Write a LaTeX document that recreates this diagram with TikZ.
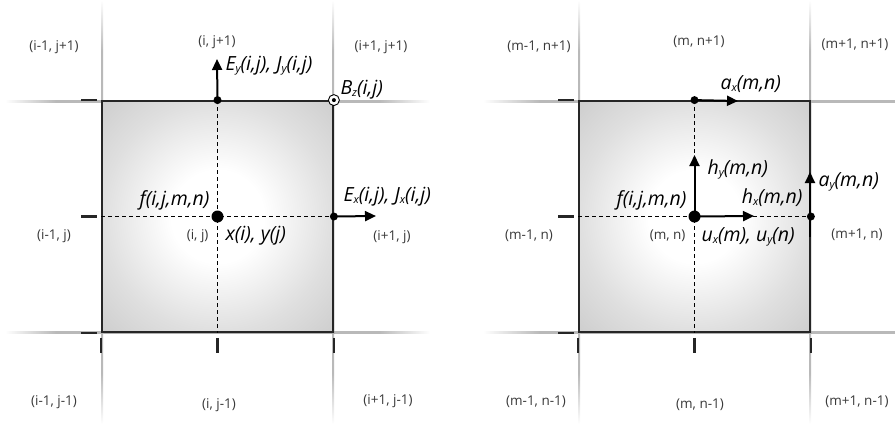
\documentclass[tikz,border=0pt]{standalone}
\usepackage{fontspec}
\setmainfont{Open Sans}
\usepackage{xcolor}
\usetikzlibrary{arrows.meta,positioning,shadows}

% grid lines fade out at both ends
\pgfdeclarehorizontalshading{gridfade}{100bp}{color(0bp)=(white); color(25bp)=(white);
  color(31bp)=(gray!55); color(69bp)=(gray!55); color(75bp)=(white); color(100bp)=(white)}
% cell fill: white centre, grey rim
\pgfdeclareradialshading{cellglow}{\pgfpoint{0bp}{0bp}}{color(0bp)=(white); color(10bp)=(white);
  color(22bp)=(gray!20); color(25bp)=(gray!25); color(35bp)=(gray!38); color(50bp)=(gray!38)}
\newcommand{\lsub}[1]{\raisebox{-0.2ex}{\fontsize{11}{11}\selectfont #1}}

\begin{document}
\begin{tikzpicture}[
    x=1pt, y=-1pt,
    cell/.style={rectangle, draw=black!85, line width=1.8pt, minimum size=231pt,
                 inner sep=0pt, shading=cellglow,
                 drop shadow={opacity=0.18, shadow xshift=2pt, shadow yshift=-2pt}},
    axis/.style={dashed, line width=0.7pt, dash pattern=on 4pt off 3pt},
    tick/.style={line width=2.6pt, black!85},
    bigdot/.style={circle, fill=black, minimum size=12pt, inner sep=0pt},
    dot/.style={circle, fill=black, minimum size=8pt, inner sep=0pt},
    bz/.style={circle, draw, fill=white, line width=0.9pt, minimum size=11pt, inner sep=0pt,
               path picture={\fill[black] (path picture bounding box.center) circle (2pt);}},
    field/.style={line width=2pt, -{Triangle[length=11pt, width=10pt]}},
    idx/.style={font=\fontsize{13.5}{16}\selectfont, text=black!78},
    lbl/.style={font=\fontsize{19.5}{22}\selectfont\itshape}
]
\useasboundingbox (0,0) rectangle (895,424);

% grid lines
\shade[shading=gridfade] (5,100) rectangle (430,102.4);
\shade[shading=gridfade] (5,331) rectangle (430,333.4);
\shade[shading=gridfade, shading angle=90] (101,0) rectangle (103,424);
\shade[shading=gridfade, shading angle=90] (332,0) rectangle (334,424);
\shade[shading=gridfade] (483,100) rectangle (960,102.4);
\shade[shading=gridfade] (483,331) rectangle (960,333.4);
\shade[shading=gridfade, shading angle=90] (578,0) rectangle (580,424);
\shade[shading=gridfade, shading angle=90] (809,0) rectangle (811,424);

% ---------------- left cell: E, J, B ----------------
\node[cell] (cellL) at (217.5,216.5) {};
\draw[axis] (cellL.north) -- (cellL.south);
\draw[axis] (cellL.west) -- (cellL.east);

\draw[tick] ([xshift=-20pt]cellL.north west) -- ([xshift=-4pt]cellL.north west);
\draw[tick] ([xshift=-20pt]cellL.west) -- ([xshift=-4pt]cellL.west);
\draw[tick] ([xshift=-20pt]cellL.south west) -- ([xshift=-4pt]cellL.south west);
\draw[tick] ([yshift=-5pt]cellL.south west) -- ([yshift=-20pt]cellL.south west);
\draw[tick] ([yshift=-5pt]cellL.south) -- ([yshift=-20pt]cellL.south);
\draw[tick] ([yshift=-5pt]cellL.south east) -- ([yshift=-20pt]cellL.south east);

\node[bigdot] (cL) at (cellL.center) {};
\node[dot] (eyL) at (cellL.north) {};
\node[dot] (exL) at (cellL.east) {};
\node[bz] (bzL) at (cellL.north east) {};
\coordinate (eyL tip) at (217,59);
\coordinate (exL tip) at (376,216);
\draw[field] (eyL.center) -- (eyL tip);
\draw[field] (exL.center) -- (exL tip);

\node[lbl, anchor=west] (eyLbl) at (222,66) {E\lsub{y}(i,j), J\lsub{y}(i,j)};
\node[lbl, anchor=west] (bzLbl) at (337,90) {B\lsub{z}(i,j)};
\node[lbl, anchor=west] (exLbl) at (340,197) {E\lsub{x}(i,j), J\lsub{x}(i,j)};
\node[lbl, anchor=east] (fL) at (213,200) {f(i,j,m,n)};
\node[lbl, anchor=west] (xyL) at (222,236) {x(i), y(j)};
\node[idx, anchor=east] (ijL) at (212,236) {(i, j)};

\node[idx] (nwL) at (54,47) {(i-1, j+1)};
\node[idx] (nL) at (217,42) {(i, j+1)};
\node[idx] (neL) at (381,47) {(i+1, j+1)};
\node[idx] (wL) at (54,236) {(i-1, j)};
\node[idx] (eL) at (392,237) {(i+1, j)};
\node[idx] (swL) at (54,402) {(i-1, j-1)};
\node[idx] (sL) at (219,405) {(i, j-1)};
\node[idx] (seL) at (388,401) {(i+1, j-1)};

% ---------------- right cell: a, h, u ----------------
\node[cell] (cellR) at (694.5,216.5) {};
\draw[axis] (cellR.north) -- (cellR.south);
\draw[axis] (cellR.west) -- (cellR.east);

\draw[tick] ([xshift=-20pt]cellR.north west) -- ([xshift=-4pt]cellR.north west);
\draw[tick] ([xshift=-20pt]cellR.west) -- ([xshift=-4pt]cellR.west);
\draw[tick] ([xshift=-20pt]cellR.south west) -- ([xshift=-4pt]cellR.south west);
\draw[tick] ([yshift=-5pt]cellR.south west) -- ([yshift=-20pt]cellR.south west);
\draw[tick] ([yshift=-5pt]cellR.south) -- ([yshift=-20pt]cellR.south);
\draw[tick] ([yshift=-5pt]cellR.south east) -- ([yshift=-20pt]cellR.south east);

\node[bigdot] (cR) at (cellR.center) {};
\node[dot] (axR) at (cellR.north) {};
\node[dot] (ayR) at (cellR.east) {};
\coordinate (axR tip) at (738,101);
\coordinate (hyR tip) at (694.5,155);
\coordinate (hxR tip) at (754,216);
\coordinate (ayR base) at (810,237);
\coordinate (ayR tip) at (810,172);
\draw[field] (axR.center) -- (axR tip);
\draw[field] (cR.center) -- (hyR tip);
\draw[field] (cR.center) -- (hxR tip);
\draw[field] (ayR base) -- (ayR tip);

\node[lbl, anchor=west] (axLbl) at (717,84) {a\lsub{x}(m,n)};
\node[lbl, anchor=west] (hyLbl) at (704,169) {h\lsub{y}(m,n)};
\node[lbl, anchor=east] (hxLbl) at (806,198) {h\lsub{x}(m,n)};
\node[lbl, anchor=west] (ayLbl) at (815,182) {a\lsub{y}(m,n)};
\node[lbl, anchor=east] (fR) at (690,200) {f(i,j,m,n)};
\node[lbl, anchor=west] (uR) at (698,237) {u\lsub{x}(m), u\lsub{y}(n)};
\node[idx, anchor=east] (mnR) at (689,236) {(m, n)};

\node[idx] (nwR) at (539,47) {(m-1, n+1)};
\node[idx] (nR) at (699,42) {(m, n+1)};
\node[idx] (neR) at (855,45) {(m+1, n+1)};
\node[idx] (wR) at (529,236) {(m-1, n)};
\node[idx] (eR) at (857,235) {(m+1, n)};
\node[idx] (swR) at (536,402) {(m-1, n-1)};
\node[idx] (sR) at (700,405) {(m, n-1)};
\node[idx] (seR) at (857,402) {(m+1, n-1)};
\end{tikzpicture}
\end{document}
